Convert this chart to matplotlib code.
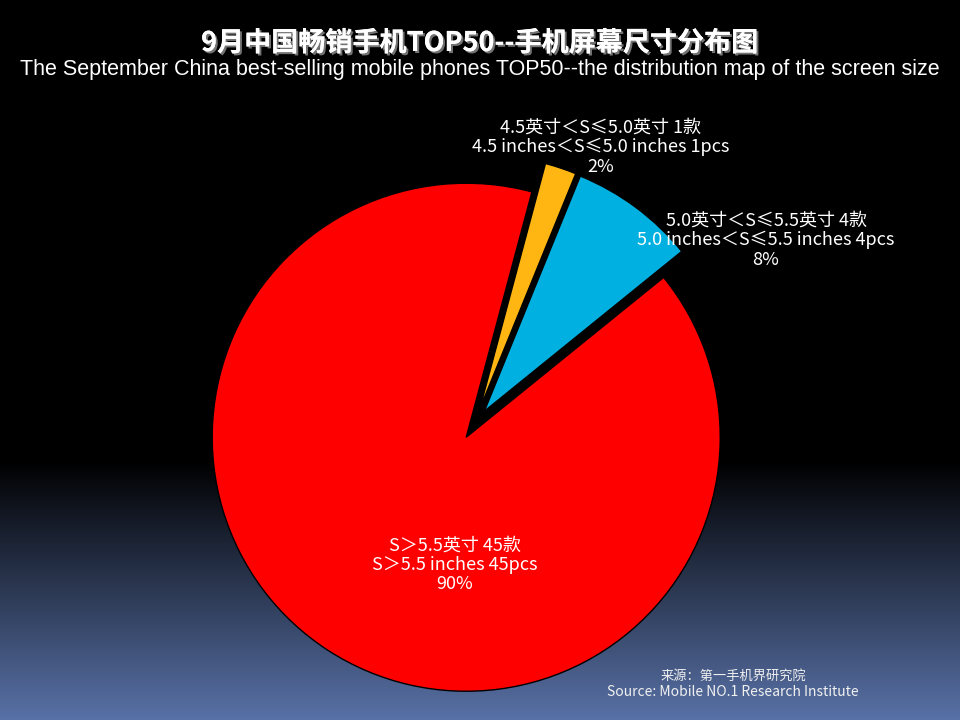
import numpy as np
import matplotlib.pyplot as plt
import matplotlib.patheffects as pe

plt.rcParams['font.family'] = ['Noto Sans CJK SC', 'DejaVu Sans']

# data (counterclockwise from the start angle)
sizes_cn = ["5.0英寸＜S≤5.5英寸 4款", "4.5英寸＜S≤5.0英寸 1款", "S＞5.5英寸 45款"]
sizes_en = ["5.0 inches＜S≤5.5 inches 4pcs", "4.5 inches＜S≤5.0 inches 1pcs", "S＞5.5 inches 45pcs"]
counts = [4, 1, 45]
colors = ["#00b0e0", "#ffb612", "#ff0000"]
explode = [16.5, 16.5, 15.2]   # pie offsets are in data units (pixels here)

title_cn = "9月中国畅销手机TOP50--手机屏幕尺寸分布图"
title_en = "The September China best-selling mobile phones TOP50--the distribution map of the screen size"
source_cn = "来源：第一手机界研究院"
source_en = "Source: Mobile NO.1 Research Institute"

fig = plt.figure(figsize=(9.6, 7.2), dpi=100)

# background gradient, black on top to steel blue at the bottom
bg = fig.add_axes([0, 0, 1, 1])
y = np.linspace(0, 1, 720)
t = np.clip((y - 0.64) / 0.36, 0, 1)
top = np.array([0, 0, 0])
bot = np.array([88, 113, 166]) / 255
grad = top[None, :] * (1 - t[:, None]) + bot[None, :] * t[:, None]
grad = np.repeat(grad[:, None, :], 20, axis=1)
bg.imshow(grad, aspect='auto', extent=[0, 960, 720, 0])
bg.axis('off')

ax = fig.add_axes([0, 0, 1, 1])
ax.set_facecolor('none')

total = sum(counts)
ax.pie(counts, colors=colors, explode=explode, startangle=39, counterclock=True,
       center=(474.5, 295.5), radius=254, frame=True,
       wedgeprops=dict(edgecolor='black', linewidth=1))
ax.set_xlim(0, 960)
ax.set_ylim(0, 720)
ax.set_aspect('equal')
ax.axis('off')

label_pos = [(766, 720 - 240), (601, 720 - 147), (455, 720 - 565)]
for (cx, cy), cn, en, c in zip(label_pos, sizes_cn, sizes_en, counts):
    pct = "{:.0f}%".format(100 * c / total)
    ax.text(cx, cy, cn + "\n" + en + "\n" + pct, color='white', fontsize=13,
            ha='center', va='center', linespacing=1.1)

fig.text(0.5, 1 - 43 / 720, title_cn, color='white', fontsize=19.5, fontweight='bold',
         ha='center', va='center',
         path_effects=[pe.withSimplePatchShadow(offset=(1.5, -1.5), shadow_rgbFace='#808080', alpha=0.9), pe.Normal()])
fig.text(0.5, 1 - 70 / 720, title_en, color='white', fontsize=15.5,
         family=['Liberation Sans', 'DejaVu Sans'], ha='center', va='center')

fig.text(733 / 960, 1 - 676 / 720, source_cn, color='#f0f0f0', fontsize=9.5, ha='center', va='center')
fig.text(733 / 960, 1 - 692 / 720, source_en, color='#f0f0f0', fontsize=10, ha='center', va='center')

fig.savefig("out.png", dpi=100)
